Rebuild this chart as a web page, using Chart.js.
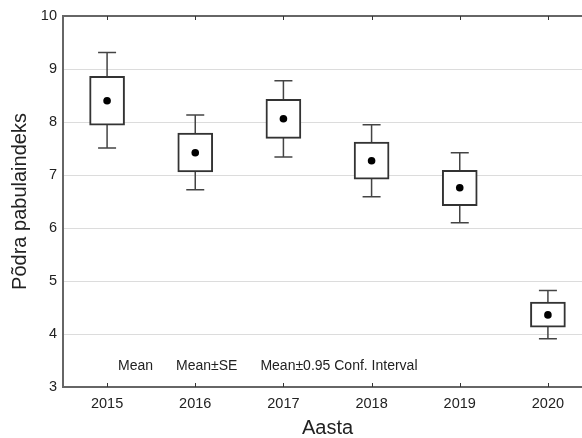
<!DOCTYPE html>
<html lang="et">
<head>
<meta charset="UTF-8">
<title>Põdra pabulaindeks</title>
<script src="https://cdn.jsdelivr.net/npm/chart.js"></script>
<style>
    html, body { margin: 0; padding: 0; background: #fff; overflow: hidden; }
</style>
</head>
<body>
<canvas id="myChartCanvas" width="600" height="438"></canvas>

<script>
    // andmed (loetud jooniselt)
    const aastad = ["2015", "2016", "2017", "2018", "2019", "2020"];
    const keskmised = [8.40, 7.42, 8.06, 7.27, 6.76, 4.36];
    const seAlumine = [7.94, 7.06, 7.69, 6.92, 6.42, 4.13];
    const seUlemine = [8.86, 7.79, 8.43, 7.62, 7.09, 4.60];
    const ciAlumine = [7.51, 6.72, 7.34, 6.59, 6.10, 3.91];
    const ciUlemine = [9.31, 8.13, 8.78, 7.95, 7.42, 4.82];
    const yTicks = [3, 4, 5, 6, 7, 8, 9, 10];
    const legendiTekstid = ["Mean", "Mean±SE", "Mean±0.95 Conf. Interval"];

    const joon = '#666';

    // vurrud, raami ülemine serv, tick'id ja legend
    const vurrudPlugin = {
        id: 'vurrud',
        beforeDatasetsDraw(chart) {
            const ctx = chart.ctx;
            const x = chart.scales.x;
            const y = chart.scales.y;
            ctx.save();
            ctx.strokeStyle = '#444';
            ctx.lineWidth = 1.5;
            for (let i = 0; i < aastad.length; i++) {
                const px = x.getPixelForValue(i);
                const lo = y.getPixelForValue(ciAlumine[i]);
                const hi = y.getPixelForValue(ciUlemine[i]);
                ctx.beginPath();
                ctx.moveTo(px, lo);
                ctx.lineTo(px, hi);
                ctx.moveTo(px - 9, lo);
                ctx.lineTo(px + 9, lo);
                ctx.moveTo(px - 9, hi);
                ctx.lineTo(px + 9, hi);
                ctx.stroke();
            }
            ctx.restore();
        },
        afterDraw(chart) {
            const ctx = chart.ctx;
            const a = chart.chartArea;
            const x = chart.scales.x;
            ctx.save();
            ctx.strokeStyle = joon;
            ctx.lineWidth = 2;
            ctx.beginPath();
            ctx.moveTo(a.left - 1, a.top);
            ctx.lineTo(a.right, a.top);
            ctx.stroke();
            ctx.strokeStyle = '#333';
            ctx.lineWidth = 1;
            for (let i = 0; i < aastad.length; i++) {
                const px = Math.round(x.getPixelForValue(i)) + 0.5;
                ctx.beginPath();
                ctx.moveTo(px, a.top);
                ctx.lineTo(px, a.top + 4);
                ctx.moveTo(px, a.bottom);
                ctx.lineTo(px, a.bottom - 4);
                ctx.stroke();
            }
            // legend
            ctx.fillStyle = '#222';
            ctx.font = '14px "Liberation Sans", Arial, sans-serif';
            ctx.textBaseline = 'middle';
            let lx = a.left + 55;
            legendiTekstid.forEach(function (t) {
                ctx.fillText(t, lx, a.bottom - 21);
                lx += ctx.measureText(t).width + 23;
            });
            ctx.restore();
        }
    };

    const dados = {
        labels: aastad,
        datasets: [
            {
                type: 'line',
                label: 'Mean',
                data: keskmised,
                showLine: false,
                pointRadius: 3.8,
                pointBackgroundColor: '#000',
                pointBorderColor: '#000',
                pointBorderWidth: 0
            },
            {
                type: 'bar',
                label: 'Mean±SE',
                data: aastad.map(function (_, i) { return [seAlumine[i], seUlemine[i]]; }),
                backgroundColor: '#fff',
                borderColor: '#333',
                borderWidth: 2,
                borderSkipped: false,
                barThickness: 35
            }
        ]
    };

    const font = '"Liberation Sans", Arial, sans-serif';

    const config = {
        type: 'bar',
        data: dados,
        options: {
            responsive: false,
            animation: false,
            layout: { padding: { top: 16, right: 8, left: 0, bottom: 0 } },
            plugins: {
                legend: { display: false },
                tooltip: { enabled: false }
            },
            scales: {
                x: {
                    offset: true,
                    grid: { display: false },
                    border: { color: joon, width: 2 },
                    ticks: { color: '#222', padding: 0, font: { family: font, size: 14.5 } },
                    title: {
                        display: true,
                        text: 'Aasta',
                        color: '#222',
                        font: { family: font, size: 20, lineHeight: 1 },
                        padding: { top: 0, bottom: 0 }
                    },
                    afterFit: function (s) { s.height = 51; }
                },
                y: {
                    min: 3,
                    max: 10,
                    afterBuildTicks: function (s) {
                        s.ticks = yTicks.map(function (v) { return { value: v }; });
                    },
                    grid: { color: '#dcdcdc', lineWidth: 1, drawTicks: false },
                    border: { color: joon, width: 2 },
                    ticks: { color: '#222', padding: 6, font: { family: font, size: 14.5 } },
                    title: {
                        display: true,
                        text: 'Põdra pabulaindeks',
                        color: '#222',
                        font: { family: font, size: 20 },
                        padding: { top: 8, bottom: 0 }
                    },
                    afterFit: function (s) { s.width = 63; }
                }
            }
        },
        plugins: [vurrudPlugin]
    };

    let myChart = new Chart(
        document.getElementById('myChartCanvas'),
        config
    );
</script>
</body>
</html>
